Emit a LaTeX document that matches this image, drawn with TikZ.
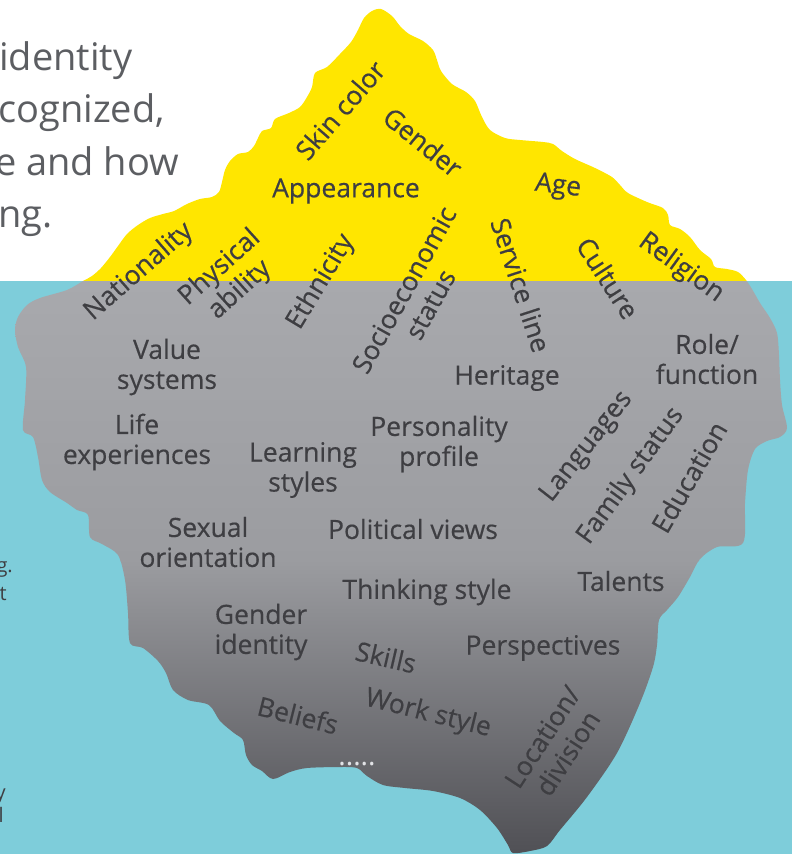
\documentclass[tikz,border=0pt]{standalone}
\usepackage{fontspec}
\setmainfont{Open Sans}
\newfontfamily\tagfont{Open Sans}[FakeBold=0.4]
\usepackage{xcolor}
\usepackage{tikz}
\definecolor{seafill}{RGB}{126,205,218}
\definecolor{tipfill}{RGB}{255,230,0}
\definecolor{bodytop}{RGB}{168,169,173}
\definecolor{bodymid}{RGB}{155,156,160}
\definecolor{bodybottom}{RGB}{80,80,85}
\definecolor{labeltext}{RGB}{62,62,66}
\definecolor{introgray}{RGB}{92,94,98}
\definecolor{dotfill}{RGB}{225,226,230}
\tikzset{
    tag/.style={
        text=labeltext,
        align=center,
        inner sep=0pt,
        font=\tagfont\fontsize{26.5}{30}\selectfont
    },
    intro/.style={
        text=introgray,
        inner sep=0pt,
        anchor=base west,
        font=\fontsize{38}{53}\selectfont
    },
    note/.style={
        text=labeltext,
        inner sep=0pt,
        anchor=base east,
        font=\fontsize{20}{28}\selectfont
    }
}

\begin{document}
\begin{tikzpicture}[x=1pt, y=-1pt]
\useasboundingbox (0,0) rectangle (792,854);

% Sea
\fill[seafill] (0,281) rectangle (792,854);

% Iceberg outline, filled yellow above the water line and shaded below
\begin{scope}
\clip plot[smooth cycle, tension=0.5] coordinates {
    (83,281) (92,276) (101,268) (110,257) (118,246) (127,234) (138,225)
    (150,218) (163,214) (174,211) (187,204) (200,199) (212,197) (219,192)
    (222,182) (225,170) (230,161) (238,154) (248,152) (254,146) (258,138)
    (262,131) (271,128) (275,119) (289,113) (300,107) (307,97) (312,87)
    (315,73) (327,67) (340,54) (351,42) (358,30) (364,18) (372,11) (381,9)
    (392,16) (400,26) (409,34) (423,41) (433,50) (437,60) (441,71) (452,84)
    (466,92) (475,101) (482,117) (490,130) (505,138) (520,140) (543,142)
    (553,144) (562,151) (575,159) (595,168) (612,177) (620,185) (628,193)
    (647,202) (663,208) (668,215) (670,225) (680,229) (690,237) (700,250)
    (711,259) (715,267) (727,269) (738,272) (746,280)
    (752,289) (760,303) (770,318) (777,333) (779,355) (780,380) (782,405)
    (787,428) (780,437) (767,441) (755,449) (748,470) (745,503) (743,543)
    (717,547) (700,559) (690,577) (678,597) (667,610) (659,620) (657,645)
    (653,667) (640,703) (617,753) (587,797) (560,830) (547,846) (530,851)
    (513,853) (508,845) (497,828) (480,810) (460,798) (433,791) (405,788)
    (383,785) (367,776) (357,768) (340,767) (307,768) (290,772) (273,779)
    (262,771) (252,765) (246,755) (243,740) (234,733) (220,721) (209,705)
    (188,700) (173,690) (166,673) (158,661) (143,648) (130,643) (128,613)
    (125,580) (118,555) (102,544) (90,537) (88,515) (77,510) (67,503)
    (50,492) (42,480) (38,457) (33,437) (23,430) (25,400) (26,367) (18,347)
    (15,330) (18,317) (27,305) (40,298) (67,290)
};
\fill[tipfill] (0,0) rectangle (792,281);
\shade[top color=bodytop, bottom color=bodymid] (0,281) rectangle (792,561);
\shade[top color=bodymid, bottom color=bodybottom] (0,560) rectangle (792,854);
\end{scope}

% Cut-off text at the left edge
\node[intro] (introa) at (-1,70) {identity};
\node[intro] (introb) at (-2,122) {cognized,};
\node[intro] (introc) at (-5,175) {e and how};
\node[intro] (introd) at (-2,227) {ng.};
\node[note] (notea) at (13,572) {g.};
\node[note] (noteb) at (7,600) {t};
\node[note] (notec) at (6,799) {y};
\node[note] (noted) at (4,822) {l};

% Above the water line
\node[tag, rotate=49] (skincolor) at (340,110) {Skin color};
\node[tag, rotate=-39] (gender) at (423,142) {Gender};
\node[tag] (appearance) at (346,191) {Appearance};
\node[tag, rotate=-7] (age) at (558,187) {Age};
\node[tag, rotate=41] (nationality) at (139,272) {Nationality};
\node[tag, rotate=42] (physical) at (230,279) {Physical\\ability};
\node[tag, rotate=59] (ethnicity) at (321,282) {Ethnicity};
\node[tag, rotate=61] (socio) at (417,297) {Socioeconomic\\status};
\node[tag, rotate=-72] (service) at (521,285) {Service line};
\node[tag, rotate=-57] (culture) at (608,278) {Culture};
\node[tag, rotate=-36] (religion) at (681,268) {Religion};

% Below the water line
\node[tag] (values) at (167,367) {Value\\systems};
\node[tag] (heritage) at (507,378) {Heritage};
\node[tag] (role) at (707,359) {Role/\\function};
\node[tag] (life) at (137,442) {Life\\experiences};
\node[tag] (learning) at (303,470) {Learning\\styles};
\node[tag] (personality) at (439,444) {Personality\\profile};
\node[tag, rotate=52] (languages) at (587,447) {Languages};
\node[tag, rotate=54] (family) at (631,476) {Family status};
\node[tag, rotate=60] (education) at (689,477) {Education};
\node[tag] (sexual) at (208,542) {Sexual\\orientation};
\node[tag] (political) at (413,529) {Political views};
\node[tag] (thinking) at (427,592) {Thinking style};
\node[tag] (talents) at (621,581) {Talents};
\node[tag] (genderid) at (261,632) {Gender\\identity};
\node[tag, rotate=-13] (skills) at (386,657) {Skills};
\node[tag] (perspectives) at (543,648) {Perspectives};
\node[tag, rotate=-14] (beliefs) at (298,715) {Beliefs};
\node[tag, rotate=-14] (workstyle) at (428,714) {Work style};
\node[tag, rotate=57] (location) at (555,745) {Location/\\division};
\node[tag, text=dotfill, font=\fontsize{28}{28}\selectfont] (more) at (357,764) {.....};

\end{tikzpicture}
\end{document}
